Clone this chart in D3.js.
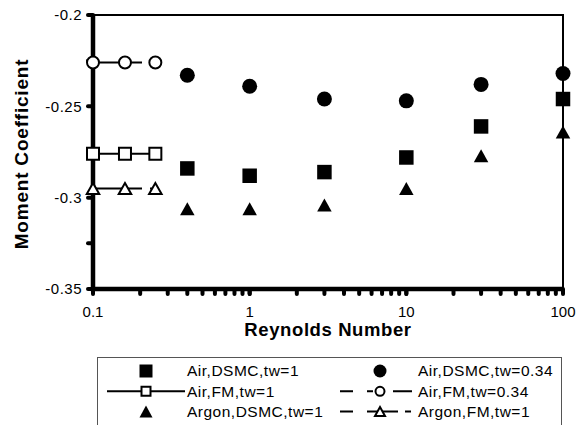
<!DOCTYPE html>
<html>
<head>
<meta charset="utf-8">
<script src="https://cdn.jsdelivr.net/npm/d3@7"></script>
<style>
  body { margin: 0; background: #fff; }
  text { font-family: "Liberation Sans", Arial, sans-serif; fill: #000; }
</style>
</head>
<body>
<div id="chart"></div>
<script>
// Reynolds numbers
const reDSMC = [0.4, 1, 3, 10, 30, 100];
const reFM = [0.1, 0.16, 0.25];

// moment coefficient values
const airDsmcTw1 = [-0.284, -0.288, -0.286, -0.278, -0.261, -0.246];
const airDsmcTw034 = [-0.233, -0.239, -0.246, -0.247, -0.238, -0.232];
const argonDsmcTw1 = [-0.306, -0.306, -0.304, -0.295, -0.277, -0.264];
const airFmTw1 = [-0.276, -0.276, -0.276];
const airFmTw034 = [-0.226, -0.226, -0.226];
const argonFmTw1 = [-0.295, -0.295, -0.295];

const yTicks = [-0.35, -0.3, -0.25, -0.2];
const yMinor = [-0.35, -0.325, -0.3, -0.275, -0.25, -0.225, -0.2];
const xTicks = [0.1, 1, 10, 100];

const width = 586, height = 425;
const marginLeft = 93, marginRight = 23, marginTop = 15, marginBottom = 136;

const x = d3.scaleLog().domain([0.1, 100]).range([marginLeft, width - marginRight]);
const y = d3.scaleLinear().domain([-0.35, -0.2]).range([height - marginBottom, marginTop]);

const svg = d3.select("#chart").append("svg")
    .attr("width", width)
    .attr("height", height);

// frame top and right (thin)
svg.append("path")
    .attr("d", `M${x(0.1)},${y(-0.2)}H${x(100)}V${y(-0.35)}`)
    .attr("fill", "none")
    .attr("stroke", "#000")
    .attr("stroke-width", 2);

// tick dots on y axis
svg.append("g")
    .selectAll("line")
    .data(yMinor)
    .join("line")
    .attr("x1", x(0.1) - 5).attr("x2", x(0.1))
    .attr("y1", d => y(d)).attr("y2", d => y(d))
    .attr("stroke", "#000").attr("stroke-width", 4).attr("stroke-linecap", "round");

// tick dots on x axis, with log minors
const xMinor = [];
[0.1, 1, 10].forEach(dec => { for (let k = 1; k <= 10; k++) xMinor.push(dec * k); });
svg.append("g")
    .selectAll("line")
    .data(xMinor)
    .join("line")
    .attr("x1", d => x(d)).attr("x2", d => x(d))
    .attr("y1", y(-0.35)).attr("y2", y(-0.35) + 5)
    .attr("stroke", "#000").attr("stroke-width", 4).attr("stroke-linecap", "round");

// thick left + bottom axes
svg.append("path")
    .attr("d", `M${x(0.1)},${y(-0.2)}V${y(-0.35)}H${x(100)}`)
    .attr("fill", "none")
    .attr("stroke", "#000")
    .attr("stroke-width", 4.5);

// tick labels (plain hyphen minus, like the original)
svg.append("g")
    .selectAll("text")
    .data(yTicks)
    .join("text")
    .attr("x", x(0.1) - 11)
    .attr("y", d => y(d))
    .attr("dy", "0.35em")
    .attr("text-anchor", "end")
    .attr("font-size", 15)
    .attr("letter-spacing", 0.5)
    .text(d => String(d));

svg.append("g")
    .selectAll("text")
    .data(xTicks)
    .join("text")
    .attr("x", d => x(d))
    .attr("y", 312)
    .attr("dy", "0.35em")
    .attr("text-anchor", "middle")
    .attr("font-size", 15)
    .text(d => String(d));

// axis titles
svg.append("text")
    .attr("x", 328).attr("y", 330)
    .attr("dy", "0.35em")
    .attr("text-anchor", "middle")
    .attr("font-size", 18.5).attr("font-weight", "bold")
    .attr("letter-spacing", 0.6)
    .text("Reynolds Number");

svg.append("text")
    .attr("transform", `translate(21,154) rotate(-90)`)
    .attr("dy", "0.35em")
    .attr("text-anchor", "middle")
    .attr("font-size", 19).attr("font-weight", "bold")
    .attr("letter-spacing", 0.8)
    .text("Moment Coefficient");

// marker shapes
function markerPath(type, w, h) {
    if (type === "square") return `M${-w / 2},${-w / 2}h${w}v${w}h${-w}Z`;
    if (type === "circle") return d3.symbol().type(d3.symbolCircle).size(Math.PI * w * w / 4)();
    return `M0,${-h / 2}L${w / 2},${h / 2}H${-w / 2}Z`;
}

function drawMarkers(g, xs, ys, type, w, h, filled) {
    g.append("g")
        .selectAll("path")
        .data(xs.map((d, i) => [d, ys[i]]))
        .join("path")
        .attr("transform", d => `translate(${x(d[0])},${y(d[1])})`)
        .attr("d", markerPath(type, w, h))
        .attr("fill", filled ? "#000" : "#fff")
        .attr("stroke", "#000")
        .attr("stroke-width", filled ? 0 : 2);
}

const line = d3.line().x(d => x(d[0])).y(d => y(d[1]));

function drawLine(g, xs, ys, dash) {
    g.append("path")
        .datum(xs.map((d, i) => [d, ys[i]]))
        .attr("d", line)
        .attr("fill", "none")
        .attr("stroke", "#000")
        .attr("stroke-width", 2)
        .attr("stroke-dasharray", dash);
}

const plot = svg.append("g");
drawLine(plot, reFM, airFmTw1, null);
drawLine(plot, reFM, airFmTw034, "49,8");
drawLine(plot, reFM, argonFmTw1, "49,8");
drawMarkers(plot, reFM, airFmTw1, "square", 12, 12, false);
drawMarkers(plot, reFM, airFmTw034, "circle", 12, 12, false);
drawMarkers(plot, reFM, argonFmTw1, "triangle", 12.5, 11, false);
drawMarkers(plot, reDSMC, airDsmcTw1, "square", 14.5, 14.5, true);
drawMarkers(plot, reDSMC, airDsmcTw034, "circle", 15, 15, true);
drawMarkers(plot, reDSMC, argonDsmcTw1, "triangle", 14.5, 13, true);

// legend
const legend = svg.append("g");
legend.append("rect")
    .attr("x", 97.5).attr("y", 357.5)
    .attr("width", 464).attr("height", 100)
    .attr("fill", "#fff")
    .attr("stroke", "#555").attr("stroke-width", 1);

const legendItems = [
    { label: "Air,DSMC,tw=1", type: "square", filled: true, dash: "none", col: 0, row: 0, w: 13, h: 13 },
    { label: "Air,DSMC,tw=0.34", type: "circle", filled: true, dash: "none", col: 1, row: 0, w: 13, h: 13 },
    { label: "Air,FM,tw=1", type: "square", filled: false, dash: null, col: 0, row: 1, w: 9, h: 9 },
    { label: "Air,FM,tw=0.34", type: "circle", filled: false, dash: "13,14,6,20,19", col: 1, row: 1, w: 9, h: 9 },
    { label: "Argon,DSMC,tw=1", type: "triangle", filled: true, dash: "none", col: 0, row: 2, w: 13, h: 12 },
    { label: "Argon,FM,tw=1", type: "triangle", filled: false, dash: "13,14,31,7,6", col: 1, row: 2, w: 10, h: 9 }
];
const cols = [{ x0: 107, x1: 185, sx: 146, tx: 187 }, { x0: 340, x1: 412, sx: 380, tx: 418 }];

legendItems.forEach(d => {
    const c = cols[d.col];
    const cy = 371 + d.row * 20.3;
    if (d.dash !== "none") {
        legend.append("line")
            .attr("x1", c.x0).attr("x2", c.x1)
            .attr("y1", cy).attr("y2", cy)
            .attr("stroke", "#000").attr("stroke-width", 2)
            .attr("stroke-dasharray", d.dash);
    }
    legend.append("path")
        .attr("transform", `translate(${c.sx},${cy})`)
        .attr("d", markerPath(d.type, d.w, d.h))
        .attr("fill", d.filled ? "#000" : "#fff")
        .attr("stroke", "#000")
        .attr("stroke-width", d.filled ? 0 : 2);
    legend.append("text")
        .attr("x", c.tx).attr("y", cy)
        .attr("dy", "0.35em")
        .attr("font-size", 15.5)
        .attr("letter-spacing", 0.5)
        .text(d.label);
});
</script>
</body>
</html>
